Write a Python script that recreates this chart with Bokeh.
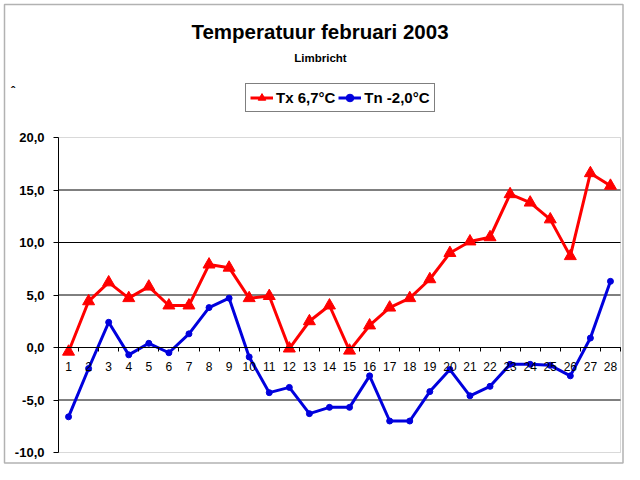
from bokeh.plotting import figure
from bokeh.models import FixedTicker, Label, BoxAnnotation, Legend, LegendItem, Range1d
from bokeh.embed import file_html
from bokeh.resources import INLINE

# ---- data ----
days = list(range(1, 29))
tx = [-0.4, 4.4, 6.2, 4.7, 5.8, 4.0, 4.0, 7.9, 7.6, 4.7, 4.9, -0.1, 2.5, 4.0,
      -0.3, 2.1, 3.8, 4.7, 6.5, 9.0, 10.1, 10.5, 14.6, 13.8, 12.2, 8.7, 16.6, 15.4]
tn = [-6.6, -2.0, 2.4, -0.7, 0.4, -0.5, 1.3, 3.8, 4.7, -0.9, -4.3, -3.8, -6.3, -5.7,
      -5.7, -2.7, -7.0, -7.0, -4.2, -2.1, -4.6, -3.7, -1.6, -1.6, -1.7, -2.7, 0.9, 6.3]
y_ticks = [-10, -5, 0, 5, 10, 15, 20]
title_text = "Temperatuur februari 2003"
subtitle_text = "Limbricht"
tx_label = "Tx 6,7°C"
tn_label = "Tn -2,0°C"

FONT = "Liberation Sans"
RED = "#FF0000"
BLUE = "#0000DD"

# ---- layout (pixels inside the figure, measured from top-left) ----
W, H = 624, 464
PL, PR, PT, PB = 58, 620, 137, 452   # plot-area edges

x0, x1 = days[0] - 0.5, days[-1] + 0.5
y0, y1 = y_ticks[0], y_ticks[-1]
kx = (PR - PL) / (x1 - x0)
ky = (PB - PT) / (y1 - y0)

p = figure(width=W, height=H, output_backend="svg", toolbar_location=None,
           x_range=Range1d(x0 - PL / kx, x1 + (W - PR) / kx),
           y_range=Range1d(y0 - (H - PB) / ky, y1 + PT / ky),
           min_border=0)
p.background_fill_color = "white"
p.border_fill_color = "white"
p.outline_line_color = None
p.xgrid.visible = False
p.ygrid.visible = False

# outer chart frame
p.add_layout(BoxAnnotation(left=4, right=W - 1.5, bottom=1.5, top=H - 4,
                           left_units="screen", right_units="screen",
                           bottom_units="screen", top_units="screen",
                           level="underlay", fill_alpha=0,
                           line_color="black", line_width=1.5))

# plot-area box (grey)
p.add_layout(BoxAnnotation(left=x0, right=x1, bottom=y0, top=y1, level="underlay",
                           fill_alpha=0, line_color="#808080", line_width=1))

# horizontal grid lines (black) inside the plot area
grid_vals = y_ticks[1:-1]
p.segment(x0=[x0] * len(grid_vals), x1=[x1] * len(grid_vals), y0=grid_vals, y1=grid_vals,
          line_color="black", line_width=1)

# y axis on the left edge of the plot area
p.yaxis.fixed_location = x0
p.yaxis.bounds = (y0, y1)
p.yaxis.ticker = FixedTicker(ticks=y_ticks, minor_ticks=[])
p.yaxis.major_label_overrides = {v: f"{v:.1f}".replace(".", ",") for v in y_ticks}
p.yaxis.major_tick_out = 5
p.yaxis.major_tick_in = 0
p.yaxis.minor_tick_out = 0
p.yaxis.minor_tick_in = 0
p.yaxis.major_label_standoff = 9
p.yaxis.major_label_text_font = FONT
p.yaxis.major_label_text_font_style = "bold"
p.yaxis.major_label_text_font_size = "13px"
p.yaxis.major_label_text_color = "black"
p.yaxis.axis_line_color = "black"
p.yaxis.major_tick_line_color = "black"

# x axis at y = 0
p.xaxis.fixed_location = 0
p.xaxis.bounds = (x0, x1)
p.xaxis.ticker = FixedTicker(ticks=days, minor_ticks=[d - 0.5 for d in days] + [x1])
p.xaxis.major_tick_out = 0
p.xaxis.major_tick_in = 0
p.xaxis.minor_tick_out = 4
p.xaxis.minor_tick_in = 0
p.xaxis.minor_tick_line_color = "black"
p.xaxis.major_label_standoff = 10
p.xaxis.major_label_text_font = FONT
p.xaxis.major_label_text_font_size = "12px"
p.xaxis.major_label_text_color = "black"
p.xaxis.axis_line_color = "black"

# series
r1 = p.line(days, tx, line_color=RED, line_width=3)
r1m = p.scatter(days, tx, marker="triangle", size=12, fill_color=RED, line_color=RED)
r2 = p.line(days, tn, line_color=BLUE, line_width=3)
r2m = p.scatter(days, tn, marker="circle", size=6, fill_color=BLUE, line_color=BLUE)

legend = Legend(items=[LegendItem(label=tx_label, renderers=[r1, r1m]),
                       LegendItem(label=tn_label, renderers=[r2, r2m])],
                orientation="horizontal", location=(245, H - 112))
legend.border_line_color = "black"
legend.border_line_width = 1
legend.background_fill_color = "white"
legend.background_fill_alpha = 1
legend.label_text_font = FONT
legend.label_text_font_size = "15px"
legend.label_text_font_style = "bold"
legend.label_text_color = "black"
legend.glyph_width = 23
legend.glyph_height = 19
legend.label_standoff = 3
legend.spacing = 3
legend.padding = 4
legend.margin = 0
p.add_layout(legend)

# titles (screen units measured from the bottom-left of the figure)
p.add_layout(Label(x=319.5, y=H - 31, x_units="screen", y_units="screen", text=title_text,
                   text_align="center", text_baseline="middle", text_font=FONT,
                   text_font_size="20.5px", text_font_style="bold", text_color="black"))
p.add_layout(Label(x=320, y=H - 57, x_units="screen", y_units="screen", text=subtitle_text,
                   text_align="center", text_baseline="middle", text_font=FONT,
                   text_font_size="11.5px", text_font_style="bold", text_color="black"))
p.add_layout(Label(x=12.5, y=H - 91, x_units="screen", y_units="screen", text="ˆ",
                   text_align="center", text_baseline="alphabetic", text_font=FONT,
                   text_font_size="12px", text_font_style="bold", text_color="black"))

open("out.html", "w").write(file_html(p, INLINE))
